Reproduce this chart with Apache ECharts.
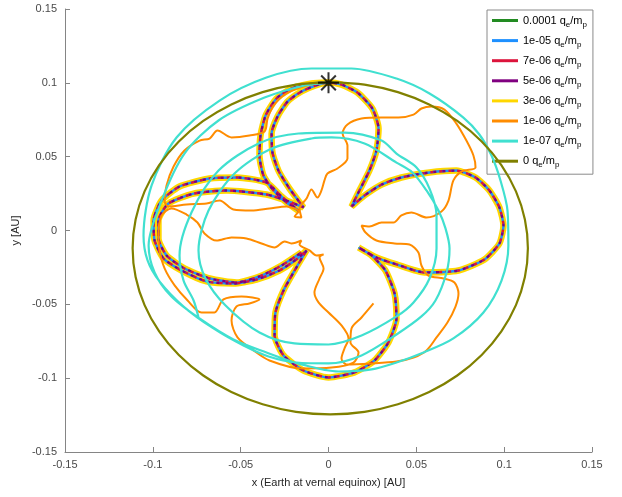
<!DOCTYPE html>
<html>
<head>
<meta charset="utf-8">
<script src="https://cdn.jsdelivr.net/npm/echarts@6/dist/echarts.min.js"></script>
<style>html,body{margin:0;padding:0;background:#fff}#c{width:622px;height:497px}</style>
</head>
<body>
<div id="c"></div>
<script>
// ---- data (AU) ----
var seriesNames = ['0.0001', '1e-05', '7e-06', '5e-06', '3e-06', '1e-06', '1e-07', '0'];
var seriesColors = ['#228B22', '#1E90FF', '#DC143C', '#800080', '#FFD700', '#FF8C00', '#40E0D0', '#808000'];
var xTicks = [-0.15, -0.1, -0.05, 0, 0.05, 0.1, 0.15];
var yTicks = [-0.15, -0.1, -0.05, 0, 0.05, 0.1, 0.15];
var startPoint = [[0, 0.1]];

// rosette trajectory shared by q/m = 1e-4 ... 3e-6 (they overlap)
var flowerPts = [
 [0,0.1002],[-0.0097,0.0995],[-0.0211,0.0961],[-0.0296,0.0894],[-0.0358,0.0779],[-0.0387,0.0643],
 [-0.0393,0.0508],[-0.0370,0.0372],[-0.0313,0.0271],[-0.0239,0.0190],[-0.0165,0.0129],
 [-0.0267,0.0230],[-0.0353,0.0325],[-0.0523,0.0359],[-0.0677,0.0352],[-0.0848,0.0298],[-0.0950,0.0203],
 [-0.0996,0.0068],[-0.0990,-0.0068],[-0.0939,-0.0190],[-0.0836,-0.0271],[-0.0694,-0.0345],[-0.0541,-0.0359],
 [-0.0410,-0.0332],[-0.0279,-0.0271],[-0.0176,-0.0190],[-0.0125,-0.0135],
 [-0.0193,-0.0271],[-0.0256,-0.0406],[-0.0302,-0.0555],[-0.0307,-0.0711],[-0.0256,-0.0846],[-0.0142,-0.0948],
 [0,-0.0995],[0.0148,-0.0961],[0.0262,-0.0880],[0.0341,-0.0758],[0.0387,-0.0596],[0.0376,-0.0427],
 [0.0324,-0.0271],[0.0245,-0.0169],[0.0171,-0.0115],
 [0.0273,-0.0183],[0.0387,-0.0230],[0.0546,-0.0284],[0.0740,-0.0271],[0.0888,-0.0196],[0.0973,-0.0088],
 [0.0996,0.0034],[0.0973,0.0156],[0.0916,0.0271],[0.0837,0.0359],[0.0728,0.0406],[0.0575,0.0393],
 [0.0415,0.0359],[0.0302,0.0311],[0.0205,0.0237],[0.0131,0.0162],
 [0.0176,0.0271],[0.0233,0.0406],[0.0273,0.0542],[0.0285,0.0691],[0.0250,0.0826],[0.0165,0.0934],
 [0.0074,0.0988],[0,0.1002],
 [-0.0074,0.0982],[-0.0154,0.0941],[-0.0233,0.0873],[-0.0290,0.0772],[-0.0324,0.0657],[-0.0319,0.0528],
 [-0.0285,0.0406],[-0.0222,0.0284],[-0.0142,0.0156],
 [-0.0239,0.0203],[-0.0353,0.0244],[-0.0581,0.0271],[-0.0768,0.0250],[-0.0911,0.0183],[-0.0968,0.0068],
 [-0.0968,-0.0054],[-0.0922,-0.0169],[-0.0820,-0.0257],[-0.0677,-0.0325],[-0.0523,-0.0352],
 [-0.0393,-0.0311],[-0.0267,-0.0237],[-0.0154,-0.0149]
];

// q/m = 1e-6
var orangePts = [
 [0,0.1002],[-0.0125,0.0982],[-0.0239,0.0928],[-0.0313,0.0846],[-0.0347,0.0758],[-0.0364,0.0670],
 [-0.0450,0.0643],[-0.0552,0.0630],[-0.0632,0.0677],[-0.0677,0.0623],[-0.0734,0.0609],[-0.0820,0.0542],
 [-0.0882,0.0433],[-0.0922,0.0305],[-0.0933,0.0203],[-0.0911,0.0162],
 [-0.0808,0.0176],[-0.0694,0.0183],[-0.0620,0.0203],[-0.0541,0.0142],[-0.0438,0.0135],[-0.0336,0.0149],
 [-0.0239,0.0162],[-0.0171,0.0129],[-0.0193,0.0095],[-0.0154,0.0088],[-0.0165,0.0149],
 [-0.0125,0.0217],[-0.0097,0.0278],[-0.0063,0.0223],[-0.0040,0.0271],[-0.0023,0.0339],[-0.0006,0.0386],
 [0.0051,0.0420],[0.0108,0.0487],[0.0108,0.0575],[0.0080,0.0657],[0.0108,0.0718],[0.0188,0.0758],
 [0.0302,0.0765],[0.0398,0.0765],[0.0484,0.0785],[0.0529,0.0826],[0.0586,0.0840],[0.0660,0.0819],
 [0.0728,0.0724],[0.0785,0.0609],[0.0825,0.0508],[0.0837,0.0427],[0.0757,0.0399],[0.0711,0.0339],
 [0.0683,0.0203],[0.0643,0.0129],[0.0558,0.0088],[0.0472,0.0122],[0.0415,0.0102],[0.0370,0.0054],
 [0.0302,0.0054],[0.0233,0.0027],[0.0188,0.0034],[0.0211,-0.0014],
 [0.0273,-0.0068],[0.0376,-0.0088],[0.0461,-0.0095],[0.0512,-0.0149],[0.0529,-0.0237],[0.0569,-0.0305],
 [0.0655,-0.0325],[0.0717,-0.0352],[0.0740,-0.0427],[0.0723,-0.0515],[0.0677,-0.0623],[0.0615,-0.0724],
 [0.0558,-0.0812],[0.0484,-0.0860],[0.0387,-0.0887],[0.0245,-0.0900],[0.0102,-0.0907],
 [0.0074,-0.0867],[0.0091,-0.0799],[0.0114,-0.0731],[0.0074,-0.0643],[0,-0.0555],[-0.0057,-0.0487],
 [-0.0080,-0.0420],[-0.0051,-0.0325],[-0.0028,-0.0257],[-0.0051,-0.0183],[-0.0028,-0.0162],[-0.0068,-0.0169],
 [-0.0108,-0.0135],[-0.0165,-0.0095],[-0.0154,-0.0068],[-0.0211,-0.0088],[-0.0250,-0.0074],[-0.0307,-0.0115],
 [-0.0381,-0.0088],[-0.0467,-0.0054],[-0.0552,-0.0047],[-0.0637,-0.0068],[-0.0706,-0.0020],[-0.0746,0.0054],
 [-0.0808,0.0108],[-0.0894,0.0149],[-0.0950,0.0102],[-0.0968,-0.0034],[-0.0962,-0.0135],[-0.0933,-0.0257],
 [-0.0876,-0.0372],[-0.0802,-0.0474],[-0.0723,-0.0555],[-0.0649,-0.0555],[-0.0598,-0.0467],[-0.0495,-0.0447],
 [-0.0393,-0.0467],[-0.0450,-0.0494],[-0.0524,-0.0515],[-0.0552,-0.0609],[-0.0518,-0.0724],[-0.0427,-0.0812],
 [-0.0336,-0.0880],[-0.0154,-0.0934],[0.0017,-0.0928],[0.0142,-0.0894],[0.0171,-0.0826],[0.0125,-0.0758],
 [0.0131,-0.0663],[0.0188,-0.0589],[0.0256,-0.0494]
];

// q/m = 1e-7
var cyanPts = [
 [0,0.1002],[-0.0137,0.0982],[-0.0364,0.0900],[-0.0626,0.0745],[-0.0820,0.0521],[-0.0950,0.0203],
 [-0.1024,-0.0102],[-0.0990,-0.0284],[-0.0894,-0.0447],[-0.0734,-0.0596],[-0.0541,-0.0738],[-0.0353,-0.0826],
 [-0.0154,-0.0907],[0.0057,-0.0955],[0.0245,-0.0941],[0.0387,-0.0894],[0.0541,-0.0826],[0.0711,-0.0731],
 [0.0882,-0.0555],[0.0985,-0.0339],[0.1024,-0.0102],[0.1019,0.0135],[0.0979,0.0339],[0.0928,0.0508],
 [0.0859,0.0650],[0.0768,0.0765],[0.0575,0.0928],[0.0387,0.1029],[0.0131,0.1097],[-0.0097,0.1097],
 [-0.0353,0.1036],[-0.0620,0.0880],[-0.0865,0.0630],[-0.1007,0.0305],[-0.1053,-0.0034],[-0.1030,-0.0203],
 [-0.0962,-0.0345],[-0.0825,-0.0515],[-0.0655,-0.0663],[-0.0484,-0.0779],[-0.0341,-0.0853],[-0.0182,-0.0894],
 [0,-0.0900],[0.0188,-0.0846],[0.0387,-0.0704],[0.0529,-0.0582],[0.0609,-0.0474],[0.0672,-0.0284],
 [0.0689,-0.0122],[0.0666,0.0014],[0.0626,0.0135],[0.0558,0.0271],[0.0478,0.0393],[0.0387,0.0460],
 [0.0205,0.0589],[0.0017,0.0630],[-0.0097,0.0623],[-0.0324,0.0555],[-0.0535,0.0386],[-0.0683,0.0135],
 [-0.0740,-0.0135],[-0.0700,-0.0325],[-0.0586,-0.0508],[-0.0393,-0.0691],[-0.0194,-0.0765],[0,-0.0772],
 [0.0188,-0.0711],[0.0387,-0.0582],[0.0484,-0.0487],[0.0575,-0.0325],[0.0615,-0.0122],[0.0615,0.0102],
 [0.0575,0.0284],[0.0501,0.0427],[0.0387,0.0521],[0.0302,0.0609],[0.0091,0.0663],[-0.0171,0.0657],
 [-0.0398,0.0589],[-0.0626,0.0406],[-0.0780,0.0122],[-0.0848,-0.0169],[-0.0825,-0.0339],[-0.0768,-0.0474],
 [-0.0740,-0.0589]
];

// q/m = 0
var olivePts = [
 [0.001,0.1005],[-0.0185,0.0988],[-0.0375,0.0937],[-0.0553,0.0854],[-0.0713,0.0742],[-0.0852,0.0603],
 [-0.0964,0.0443],[-0.1047,0.0265],[-0.1098,0.0075],[-0.1115,-0.012],[-0.1098,-0.0315],[-0.1047,-0.0505],
 [-0.0964,-0.0683],[-0.0852,-0.0843],[-0.0713,-0.0982],[-0.0553,-0.1094],[-0.0375,-0.1177],[-0.0185,-0.1228],
 [0.001,-0.1245],[0.0205,-0.1228],[0.0395,-0.1177],[0.0573,-0.1094],[0.0733,-0.0982],[0.0872,-0.0843],
 [0.0984,-0.0683],[0.1067,-0.0505],[0.1118,-0.0315],[0.1135,-0.012],[0.1118,0.0075],[0.1067,0.0265],
 [0.0984,0.0443],[0.0872,0.0603],[0.0733,0.0742],[0.0573,0.0854],[0.0395,0.0937],[0.0205,0.0988],
 [0.001,0.1005]
];

var seriesData = [flowerPts, flowerPts, flowerPts, flowerPts, flowerPts, orangePts, cyanPts, olivePts];
var seriesWidths = [2.5, 2.4, 2.4, 2.4, 6.5, 2, 2.2, 2.2];
var seriesZ = [2, 4, 5, 6, 3, 7, 8, 9];
var seriesDash = ['solid', 'solid', [3, 6], [3, 6], 'solid', 'solid', 'solid', 'solid'];
var seriesDashOffset = [0, 0, 0, 3, 0, 0, 0, 0];
var seriesSmooth = [0.2, 0.2, 0.2, 0.2, 0.2, 0.3, 0.3, 0.3];

var FONT = '"Liberation Sans", Arial, Helvetica, sans-serif';
var chart = echarts.init(document.getElementById('c'), null, {renderer: 'canvas'});

var series = seriesNames.map(function (n, i) {
  return {
    name: n, type: 'line', data: seriesData[i], showSymbol: false, symbol: 'none',
    smooth: seriesSmooth[i], z: seriesZ[i], animation: false,
    lineStyle: {color: seriesColors[i], width: seriesWidths[i], type: seriesDash[i], dashOffset: seriesDashOffset[i]},
    itemStyle: {color: seriesColors[i]}
  };
});
series.push({
  type: 'scatter', data: startPoint, z: 20, symbolSize: 21,
  symbol: 'path://M10,0L10,20M0,10L20,10M3,3L17,17M3,17L17,3',
  itemStyle: {color: 'rgba(0,0,0,0)', borderColor: '#000', borderWidth: 2},
  animation: false, silent: true
});

chart.setOption({
  backgroundColor: '#fff',
  animation: false,
  grid: {left: 65, right: 30, top: 9, bottom: 45},
  xAxis: {
    type: 'value', min: -0.15, max: 0.15, interval: 0.05,
    name: 'x (Earth at vernal equinox) [AU]', nameLocation: 'middle', nameGap: 25,
    nameTextStyle: {fontFamily: FONT, fontSize: 11, color: '#262626'},
    axisLine: {show: true, onZero: false, lineStyle: {color: '#858585', width: 1}},
    axisTick: {show: true, inside: true, length: 5, lineStyle: {color: '#858585'}},
    axisLabel: {fontFamily: FONT, fontSize: 11, color: '#4a4a4a', margin: 7,
      formatter: function (v) { return String(+v.toFixed(2)); }},
    splitLine: {show: false}
  },
  yAxis: {
    type: 'value', min: -0.15, max: 0.15, interval: 0.05,
    name: 'y [AU]', nameLocation: 'middle', nameGap: 34,
    nameTextStyle: {fontFamily: FONT, fontSize: 11, color: '#262626'},
    axisLine: {show: true, onZero: false, lineStyle: {color: '#858585', width: 1}},
    axisTick: {show: true, inside: true, length: 5, lineStyle: {color: '#858585'}},
    axisLabel: {fontFamily: FONT, fontSize: 11, color: '#4a4a4a', margin: 8,
      formatter: function (v) { return String(+v.toFixed(2)); }},
    splitLine: {show: false}
  },
  legend: {
    data: seriesNames, orient: 'vertical', left: 487, top: 10,
    padding: [5, 6, 5, 5], itemGap: 6.6, itemWidth: 26, itemHeight: 3, icon: 'rect',
    backgroundColor: '#fff', borderColor: '#8a8a8a', borderWidth: 1,
    selectedMode: false,
    formatter: function (n) { return '{a|' + n + ' q}{s|e}{a|/m}{s|p}'; },
    textStyle: {
      fontFamily: FONT, fontSize: 11, color: '#000',
      rich: {
        a: {fontFamily: FONT, fontSize: 11, color: '#000', lineHeight: 16, verticalAlign: 'middle'},
        s: {fontFamily: FONT, fontSize: 8, color: '#000', lineHeight: 9, verticalAlign: 'bottom'}
      }
    }
  },
  series: series
});
</script>
</body>
</html>
